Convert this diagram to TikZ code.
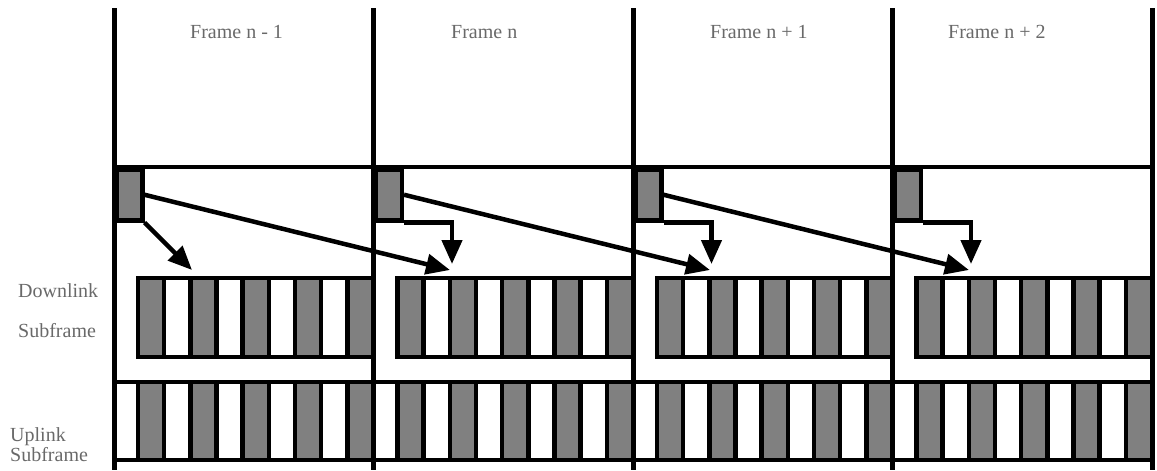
\documentclass[tikz,border=0pt]{standalone}
\usepackage{fontspec}
\setmainfont{Liberation Serif}
\usetikzlibrary{arrows.meta}
\definecolor{slotgray}{RGB}{128,128,128}
\definecolor{txtgray}{RGB}{105,105,105}
\begin{document}
\begin{tikzpicture}[x=1pt,y=-1pt,
  frameline/.style={line width=5pt},
  rule/.style={line width=4.5pt},
  graycell/.style={fill=slotgray,draw=black,line width=4.5pt},
  whitecell/.style={fill=white,draw=black,line width=4.5pt},
  ctrl/.style={rectangle,fill=slotgray,draw=black,line width=4.5pt,minimum width=26pt,minimum height=51pt,inner sep=0pt,anchor=north west},
  arr/.style={line width=4.5pt,-{Triangle[length=24pt,width=20pt]}},
  lbl/.style={font=\fontsize{20}{22}\selectfont,text=txtgray,inner sep=0pt}
]
\useasboundingbox (0,0) rectangle (1157,471);
% top rule
\draw[rule] (114,167) -- (1152,167);
% slots
\foreach \i in {0,...,3}{
  \pgfmathsetmacro{\xo}{114+259.5*\i}
  \draw[whitecell] (\xo,382) rectangle (\xo+24,460);
  \foreach \k in {0,2,4,6,8}{
    \pgfmathsetmacro{\xa}{\xo+24+26.167*\k}
    \draw[graycell] (\xa,278) rectangle (\xa+26.167,357);
    \draw[graycell] (\xa,382) rectangle (\xa+26.167,460);
  }
  \foreach \k in {1,3,5,7}{
    \pgfmathsetmacro{\xa}{\xo+24+26.167*\k}
    \draw[whitecell] (\xa,278) rectangle (\xa+26.167,357);
    \draw[whitecell] (\xa,382) rectangle (\xa+26.167,460);
  }
}
% frame lines
\foreach \i in {0,...,4}{
  \draw[frameline] (114+259.5*\i,8) -- (114+259.5*\i,470);
}
% control boxes
\node[ctrl] (c0) at (114,167) {};
\node[ctrl] (c1) at (373.5,167) {};
\node[ctrl] (c2) at (633,167) {};
\node[ctrl] (c3) at (892.5,167) {};
% targets
\coordinate (s0) at (192,270);
\coordinate (t1) at (450,270);
\coordinate (t2) at (710,270);
\coordinate (t3) at (969,270);
\coordinate (d1) at (452,264);
\coordinate (d2) at (711.5,264);
\coordinate (d3) at (971,264);
% arrows
\draw[arr] (c0.south east) -- (s0);
\draw[arr] (c0.east) -- (t1);
\draw[arr] (c1.east) -- (t2);
\draw[arr] (c2.east) -- (t3);
\draw[arr] (c1.south east) -| (d1);
\draw[arr] (c2.south east) -| (d2);
\draw[arr] (c3.south east) -| (d3);
% labels
\node[lbl,anchor=base west] (f0) at (190,38) {Frame n - 1};
\node[lbl,anchor=base west] (f1) at (451,38) {Frame n};
\node[lbl,anchor=base west] (f2) at (710,38) {Frame n + 1};
\node[lbl,anchor=base west] (f3) at (948,38) {Frame n + 2};
\node[lbl,anchor=base west] (dl1) at (18,297) {Downlink};
\node[lbl,anchor=base west] (dl2) at (18,337) {Subframe};
\node[lbl,anchor=base west] (ul1) at (10,441) {Uplink};
\node[lbl,anchor=base west] (ul2) at (10,461) {Subframe};
\end{tikzpicture}
\end{document}
